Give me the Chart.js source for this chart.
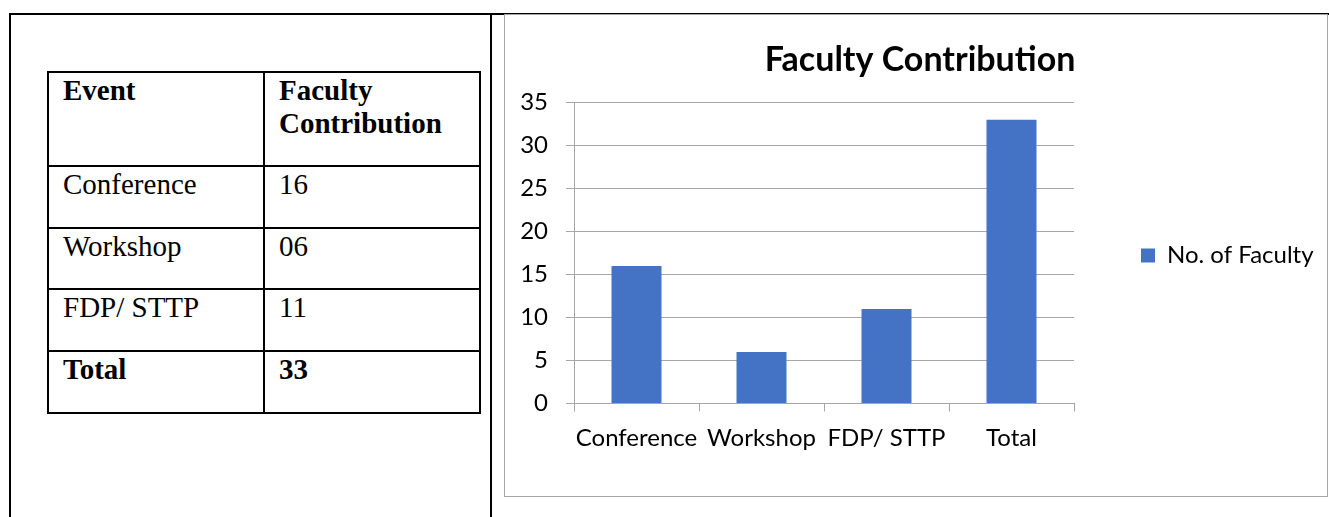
<!DOCTYPE html>
<html>
<head>
<meta charset="utf-8">
<script src="https://cdn.jsdelivr.net/npm/chart.js@4/dist/chart.umd.min.js"></script>
<style>
  html, body { margin: 0; padding: 0; background: #fff; }
  body { width: 1329px; height: 517px; position: relative; overflow: hidden; }
  .line { position: absolute; background: #000; }
  #dataTable {
    position: absolute; left: 47px; top: 71px;
    border-collapse: separate; border-spacing: 0;
    border-top: 2px solid #000; border-left: 2px solid #000;
    table-layout: fixed;
    font-family: "Liberation Serif", "Times New Roman", serif;
    font-size: 29px; line-height: 33px; color: #000;
  }
  #dataTable td {
    border-right: 2px solid #000; border-bottom: 2px solid #000;
    padding: 1px 0 0 14px; vertical-align: top;
    box-sizing: border-box;
  }
  #dataTable td.c1 { width: 216px; }
  #dataTable td.c2 { width: 216px; }
  #dataTable tr.b td { font-weight: bold; }
  #chartBox {
    position: absolute; left: 504px; top: 14px; width: 822px; height: 481px;
    border: 1px solid #a6a6a6;
  }
  #chartBox canvas { display: block; }
</style>
</head>
<body>
<!-- outer table lines -->
<div class="line" style="left:9px; top:13px; width:1320px; height:2px;"></div>
<div class="line" style="left:9px; top:13px; width:2px; height:504px;"></div>
<div class="line" style="left:490px; top:13px; width:2px; height:504px;"></div>

<table id="dataTable"><tbody></tbody></table>

<div id="chartBox"><canvas id="chart" width="822" height="481"></canvas></div>

<script>
// data
const categories = ['Conference', 'Workshop', 'FDP/ STTP', 'Total'];
const facultyCounts = [16, 6, 11, 33];
const tableHeader = ['Event', 'Faculty Contribution'];
const tableEvents = ['Conference', 'Workshop', 'FDP/ STTP', 'Total'];
const tableValues = ['16', '06', '11', '33'];
const rowHeights = [94, 62, 61, 62, 62];
const seriesName = 'No. of Faculty';
const chartTitle = 'Faculty Contribution';

// left table
const tbody = document.querySelector('#dataTable tbody');
const rows = [tableHeader].concat(tableEvents.map((e, i) => [e, tableValues[i]]));
rows.forEach((r, i) => {
  const tr = document.createElement('tr');
  if (i === 0 || i === rows.length - 1) tr.className = 'b';
  r.forEach((txt, j) => {
    const td = document.createElement('td');
    td.className = 'c' + (j + 1);
    td.style.height = rowHeights[i] + 'px';
    if (i === 0 && j === 1) td.innerHTML = 'Faculty<br>Contribution';
    else td.textContent = txt;
    tr.appendChild(td);
  });
  tbody.appendChild(tr);
});

// chart
const FONT = 'Lato';
const gridColor = '#a6a6a6';
const legendWidth = 253;

// force legend width so plot area ends where it should
const legendWidthPlugin = {
  id: 'legendWidth',
  beforeUpdate(chart) {
    const lg = chart.legend;
    if (lg && !lg._patched) {
      const fit = lg.fit;
      lg.fit = function () { fit.call(this); this.width = legendWidth; };
      lg._patched = true;
    }
  }
};

new Chart(document.getElementById('chart'), {
  type: 'bar',
  data: {
    labels: categories,
    datasets: [{
      label: seriesName,
      data: facultyCounts,
      backgroundColor: '#4472C4',
      borderWidth: 0,
      barPercentage: 0.4,
      categoryPercentage: 1.0
    }]
  },
  options: {
    responsive: false,
    animation: false,
    layout: { padding: { left: 8, right: 0, top: 0, bottom: 0 } },
    plugins: {
      title: {
        display: true,
        text: chartTitle,
        color: '#000',
        font: { family: FONT, size: 34, weight: 'bold' },
        padding: { top: 24.5, bottom: 22.2 }
      },
      legend: {
        position: 'right',
        labels: {
          color: '#000',
          font: { family: FONT, size: 24 },
          boxWidth: 14,
          boxHeight: 14,
          padding: 67
        }
      },
      tooltip: { enabled: false }
    },
    scales: {
      x: {
        grid: { drawOnChartArea: false, drawTicks: true, tickLength: 8, color: gridColor },
        border: { display: true, color: gridColor },
        ticks: { color: '#000', font: { family: FONT, size: 24 }, padding: 12, maxRotation: 0 },
        afterFit(scale) { scale.height = 92.5; }
      },
      y: {
        min: 0,
        max: 35,
        grid: { color: gridColor, tickLength: 8 },
        border: { display: true, color: gridColor },
        ticks: { stepSize: 5, color: '#000', font: { family: FONT, size: 24 }, padding: 18 },
        afterFit(scale) { scale.width = 61; }
      }
    }
  },
  plugins: [legendWidthPlugin]
});
</script>
</body>
</html>
